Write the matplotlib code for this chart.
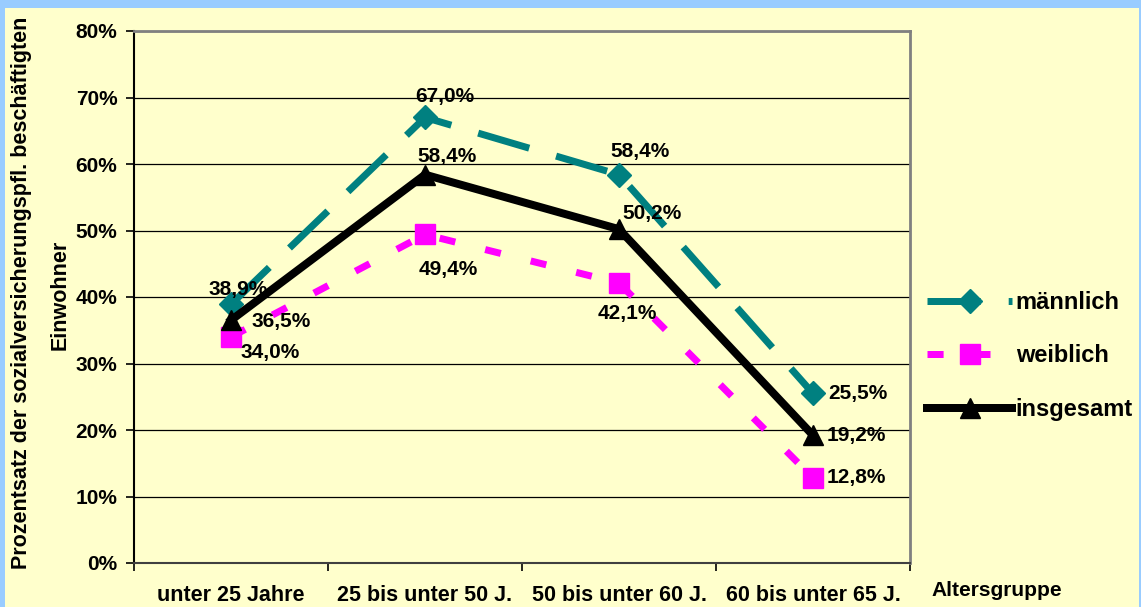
import matplotlib
matplotlib.use('Agg')
import matplotlib.pyplot as plt
from matplotlib.ticker import MultipleLocator, FuncFormatter

plt.rcParams['font.family'] = ['Liberation Sans', 'DejaVu Sans']
plt.rcParams['font.weight'] = 'bold'

categories = ['unter 25 Jahre', '25 bis unter 50 J.', '50 bis unter 60 J.', '60 bis unter 65 J.']
maennlich = [38.9, 67.0, 58.4, 25.5]
weiblich = [34.0, 49.4, 42.1, 12.8]
insgesamt = [36.5, 58.4, 50.2, 19.2]

bg = '#FFFFCC'
teal = '#008080'
magenta = '#FF00FF'

fig = plt.figure(figsize=(11.41, 6.07), dpi=100, facecolor='#99CCFF')
# yellow panel inside blue frame
back = fig.add_axes([5/1141, 0, (1139-5)/1141, (607-8)/607], zorder=-1)
back.set_facecolor(bg)
back.set_axis_off()
back.add_patch(plt.Rectangle((0, 0), 1, 1, transform=back.transAxes, color=bg))

ax = fig.add_axes([134/1141, 44/607, 776/1141, 532/607], zorder=1)
ax.set_facecolor(bg)

x = list(range(len(categories)))

def px(v):
    return v * 0.72

ax.plot(x, maennlich, color=teal, lw=px(7), dashes=(7.6, 4.0), dash_capstyle='butt',
        marker='D', ms=px(17), label='männlich', zorder=3)
ax.plot(x, weiblich, color=magenta, lw=px(7), dashes=(2.3, 4.4), dash_capstyle='butt',
        marker='s', ms=px(20), label='weiblich', zorder=3)
ax.plot(x, insgesamt, color='black', lw=px(8), marker='^', ms=px(20),
        label='insgesamt', zorder=4)

lab_kw = dict(textcoords='offset points', fontsize=15, fontweight='bold',
              ha='center', va='center', zorder=5)

def lab(xi, v, dx, dy):
    ax.annotate(f'{v:.1f}%'.replace('.', ','), (xi, v), xytext=(px(dx), px(dy)), **lab_kw)

m_off = [(7, 15), (20, 21), (21, 23), (45, 0)]
w_off = [(39, -16), (23, -35), (8, -30), (43, 0)]
i_off = [(50, -1), (22, 18), (33, 16), (43, 0)]
for i in x:
    lab(i, maennlich[i], *m_off[i])
    lab(i, weiblich[i], *w_off[i])
    lab(i, insgesamt[i], *i_off[i])

ax.set_xlim(-0.5, len(categories) - 0.5)
ax.set_ylim(0, 80)
ax.yaxis.set_major_locator(MultipleLocator(10))
ax.yaxis.set_major_formatter(FuncFormatter(lambda v, p: f'{v:.0f}%'))
ax.grid(axis='y', color='black', lw=0.9)
ax.set_axisbelow(True)

ax.set_xticks(x)
ax.set_xticklabels(categories)
ax.set_xticks([i - 0.5 for i in range(len(categories) + 1)], minor=True)
ax.tick_params(axis='x', which='major', length=0, pad=16, labelsize=15.5)
ax.tick_params(axis='x', which='minor', length=6, width=1.2, direction='out')
ax.tick_params(axis='y', length=6, width=1.2, labelsize=15, pad=6)
for t in ax.get_yticklabels() + ax.get_xticklabels():
    t.set_fontweight('bold')

ax.spines['left'].set_color('black')
ax.spines['left'].set_linewidth(1.5)
ax.spines['bottom'].set_color('#404040')
ax.spines['bottom'].set_linewidth(1.5)
ax.spines['top'].set_color('gray')
ax.spines['top'].set_linewidth(2)
ax.spines['right'].set_color('gray')
ax.spines['right'].set_linewidth(2)

fig.text(22/1141, 1 - 293/607, 'Prozentsatz der sozialversicherungspfl. beschäftigten',
         rotation=90, ha='center', va='center', fontsize=15.5, fontweight='bold')
fig.text(60/1141, 1 - 295/607, 'Einwohner',
         rotation=90, ha='center', va='center', fontsize=15.5, fontweight='bold')
fig.text(997/1141, 1 - 591/607, 'Altersgruppe', ha='center', va='center',
         fontsize=15, fontweight='bold')

leg = ax.legend(loc='center left', bbox_to_anchor=(906/1141, 1 - 356/607),
                bbox_transform=fig.transFigure, frameon=False,
                handlelength=3.6, handletextpad=0.15, labelspacing=1.3,
                prop={'weight': 'bold', 'size': 17})

fig.savefig('out.png', dpi=100, facecolor=fig.get_facecolor())
